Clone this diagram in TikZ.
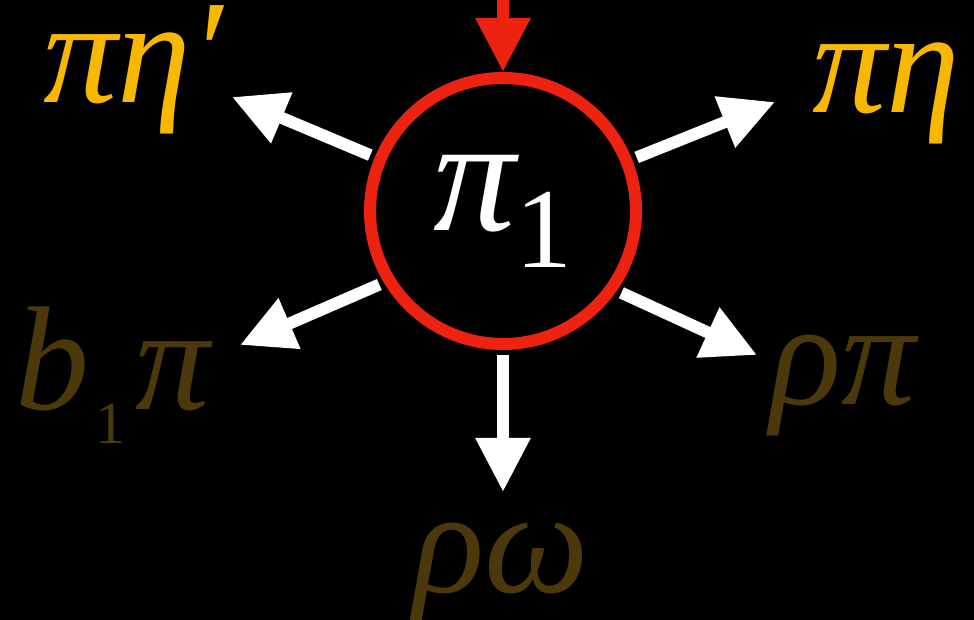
\documentclass[tikz,border=0pt]{standalone}
\usepackage{fontspec}
\setmainfont{Liberation Serif}
\usetikzlibrary{arrows.meta,calc}
\definecolor{ringred}{HTML}{EE2211}
\definecolor{gold}{HTML}{F9B800}
\definecolor{umber}{HTML}{4B390C}
\tikzset{
  meson/.style={circle, draw=ringred, line width=6pt, fill=black, minimum size=133pt, inner sep=0pt, outer sep=3pt, text=white, font=\fontsize{82}{82}\selectfont},
  seen/.style={anchor=base west, text=gold, inner sep=0pt, font=\fontsize{74}{74}\selectfont\itshape},
  unseen/.style={seen, text=umber},
  decay/.style={draw=white, line width=6pt, -{Triangle[length=27pt, width=26pt]}, shorten <=2.5pt},
  feed/.style={draw=ringred, line width=6pt, -{Triangle[length=27pt, width=26pt]}}
}

\begin{document}
\begin{tikzpicture}[x=0.5pt, y=0.5pt]
  \fill[black] (0,0) rectangle (974,620);
  \useasboundingbox (0,0) rectangle (974,620);

  \node[meson] (p1) at (503,409) {\raisebox{-7pt}{\itshape π\raisebox{-18.5pt}{\upshape\fontsize{57}{57}\selectfont 1}}};

  % final states
  \node[seen] (etap) at (43,517) {πη′};
  \node[seen] (eta) at (812,507) {πη};
  \node[unseen] (b1pi) at (15,210) {b\kern3pt\raisebox{-17pt}{\upshape\fontsize{30}{30}\selectfont 1}\kern5ptπ};
  \node[unseen] (rhopi) at (770,215) {ρπ};
  \node[unseen] (rhoomega) at (413,27) {ρω};

  \coordinate (feedsrc) at (503,620);
  \coordinate (etaptip) at (232,523);
  \coordinate (etatip) at (775,518);
  \coordinate (b1pitip) at (240,275);
  \coordinate (rhopitip) at (757,265);
  \coordinate (rhoomegatip) at (503,128);

  \draw[feed] (feedsrc) -- (p1);
  \draw[decay] (p1) -- (etaptip);
  \draw[decay] (p1) -- (etatip);
  \draw[decay] (p1.211) -- (b1pitip);
  \draw[decay] (p1.-35) -- (rhopitip);
  \draw[decay] (p1) -- (rhoomegatip);
\end{tikzpicture}
\end{document}
